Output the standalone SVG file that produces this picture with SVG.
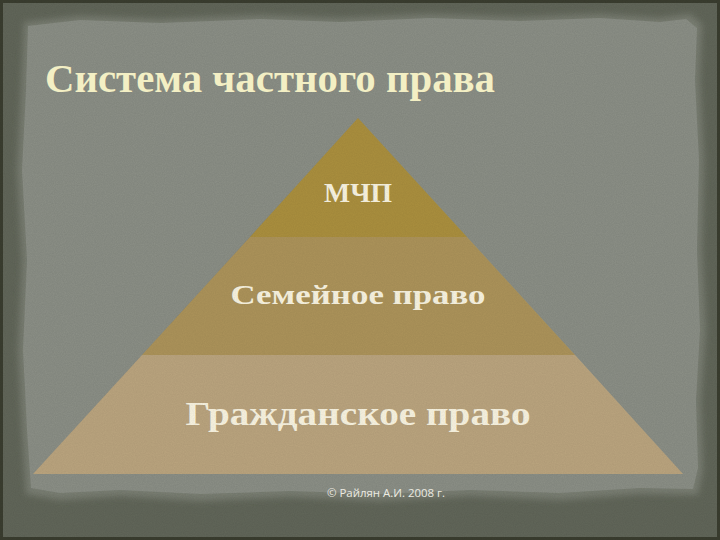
<svg xmlns="http://www.w3.org/2000/svg" width="720" height="540" viewBox="0 0 720 540">
<defs>
<filter id="noise" x="0" y="0" width="100%" height="100%">
<feTurbulence type="fractalNoise" baseFrequency="0.9" numOctaves="2" seed="3" result="n"/>
<feColorMatrix in="n" type="matrix" values="0 0 0 0 0  0 0 0 0 0  0 0 0 0 0  0 0 0 0.18 0"/>
<feComposite in2="SourceGraphic" operator="in"/>
</filter>
<filter id="soft" x="-5%" y="-5%" width="110%" height="110%">
<feGaussianBlur stdDeviation="3"/>
</filter>
<style>
.lbl{font-family:"Liberation Serif","DejaVu Serif",serif;font-weight:bold;text-anchor:middle;fill:#f8f3e0}
</style>
</defs>
<rect width="720" height="540" fill="#3b3e30"/>
<rect x="3" y="3" width="714" height="534" fill="#62675a"/>
<path d="M24,22 L80,16 L160,19 L260,15 L340,18 L430,14 L520,17 L600,14 L660,18 L690,14 L702,24 L700,80 L704,160 L702,250 L706,330 L701,400 L703,470 L698,495 L640,494 L560,500 L470,496 L380,501 L290,497 L200,501 L120,496 L60,500 L26,494 L22,430 L18,350 L22,260 L17,170 L21,90 Z" fill="#7b8074" filter="url(#soft)"/>
<path d="M28,26 L80,20 L160,23 L260,19 L340,22 L430,18 L520,21 L600,18 L660,22 L686,19 L697,28 L695,80 L699,160 L697,250 L700,330 L696,400 L698,468 L693,489 L640,488 L560,493 L470,490 L380,494 L290,491 L200,494 L120,490 L60,493 L31,488 L27,430 L23,350 L27,260 L22,170 L26,90 Z" fill="#8c9087"/>
<rect x="0" y="0" width="720" height="540" fill="#808070" filter="url(#noise)" opacity="0.5"/>
<g id="title"><text x="45" y="92" font-family="Liberation Serif, DejaVu Serif, serif" font-weight="bold" font-size="39" fill="#f3efc4" textLength="450" lengthAdjust="spacingAndGlyphs">Система частного права</text></g>
<g id="pyramid">
<g id="level-mchp"><path d="M358,118 L467,237 L250,237 Z" fill="#aa8f3e"/>
<text class="lbl" x="358" y="202" font-size="27" textLength="68" lengthAdjust="spacingAndGlyphs">МЧП</text></g>
<g id="level-family"><path d="M250,237 L467,237 L575,355 L142,355 Z" fill="#ac935a"/>
<text class="lbl" x="358" y="304" font-size="27" textLength="255" lengthAdjust="spacingAndGlyphs">Семейное право</text></g>
<g id="level-civil"><path d="M142,355 L575,355 L683,474 L33,474 Z" fill="#baa47e"/>
<text class="lbl" x="358" y="425" font-size="34" textLength="345" lengthAdjust="spacingAndGlyphs">Гражданское право</text></g>
<path d="M358,118 L683,474 L33,474 Z" fill="#808070" filter="url(#noise)" opacity="0.35"/>
</g>
<g id="connectors"/>
<g id="footer"><text x="386" y="497" font-family="Open Sans, DejaVu Sans, sans-serif" font-size="10.5" fill="#ecebe2" text-anchor="middle" textLength="118" lengthAdjust="spacingAndGlyphs">© Райлян А.И. 2008 г.</text></g>
</svg>
